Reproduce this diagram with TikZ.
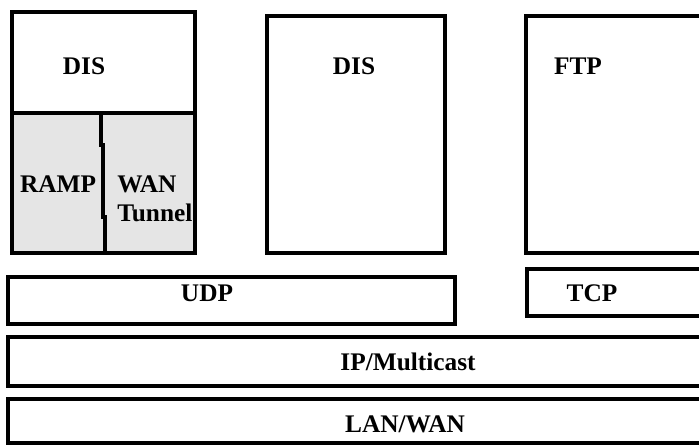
\documentclass[tikz,border=0pt]{standalone}
\usepackage{fontspec}
\setmainfont{Liberation Serif}
\usetikzlibrary{positioning}
\tikzset{
  stackbox/.style={draw, line width=2.4pt, line join=miter},
  stackfill/.style={fill=black!10},
  stacklabel/.style={font=\fontsize{19}{22}\selectfont\bfseries, inner sep=0pt, anchor=base},
}

\begin{document}
\begin{tikzpicture}[x=0.75pt, y=-0.75pt]
  \useasboundingbox (0,0) rectangle (699,445);
  \clip (0,0) rectangle (699,445);

  % application boxes
  \fill[stackfill] (12,113) rectangle (195,253);
  \draw[stackbox] (12,12) rectangle (195,253);
  \draw[stackbox] (12,113) -- (195,113);
  \draw[stackbox] (101,113) -- (101,145) -- (103,145) -- (103,217) -- (105,217) -- (105,253);
  \draw[stackbox] (267,16) rectangle (445,253);
  \draw[stackbox] (526,16) rectangle (712,253);

  % transport and network layers
  \draw[stackbox] (8,277) rectangle (455,324);
  \draw[stackbox] (527,269) rectangle (712,316);
  \draw[stackbox] (8,337) rectangle (712,386);
  \draw[stackbox] (8,399) rectangle (712,443);

  \node[stacklabel] (disleft) at (84,75) {DIS};
  \node[stacklabel] (ramp) at (58,193) {RAMP};
  \node[stacklabel, anchor=base west] (wan) at (117,193) {WAN};
  \node[stacklabel, anchor=base west] (tunnel) at (117,222) {Tunnel};
  \node[stacklabel] (dismid) at (354,75) {DIS};
  \node[stacklabel] (ftp) at (578,75) {FTP};
  \node[stacklabel] (udp) at (207,301) {UDP};
  \node[stacklabel] (tcp) at (592,301) {TCP};
  \node[stacklabel] (ipmc) at (408,370) {IP/Multicast};
  \node[stacklabel] (lanwan) at (405,432) {LAN/WAN};
\end{tikzpicture}
\end{document}
